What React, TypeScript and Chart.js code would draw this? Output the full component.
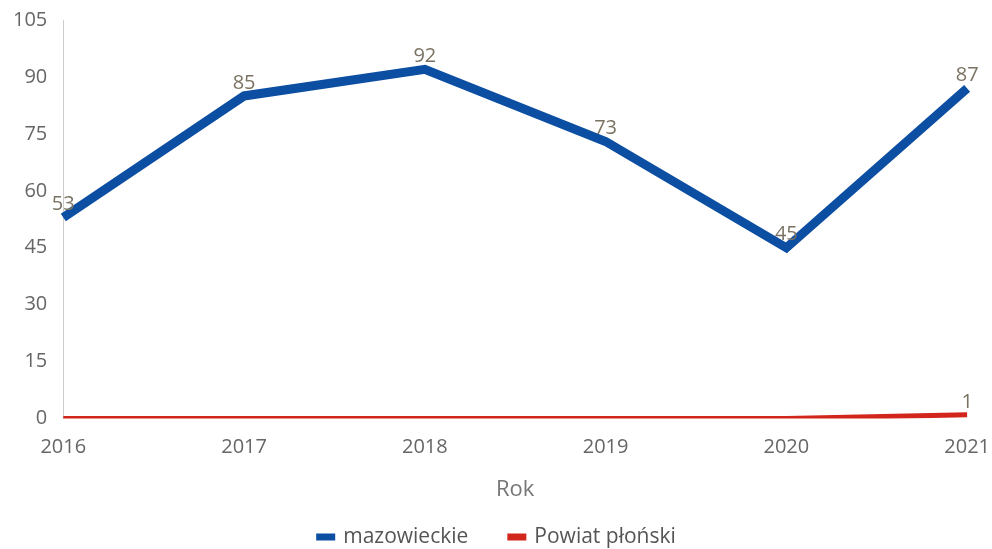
import React, { useEffect, useRef } from "react";
import { Chart, registerables } from "chart.js";

Chart.register(...registerables);

const years = ["2016", "2017", "2018", "2019", "2020", "2021"];
const mazowieckie = [53, 85, 92, 73, 45, 87];
const powiatPlonski = [0, 0, 0, 0, 0, 1];
const seriesNames = ["mazowieckie", "Powiat płoński"];
const seriesColors = ["#0b4ea2", "#d2261c"];

const FONT = "'Open Sans', 'Noto Sans', sans-serif";
const VIEW_W = 992;
const VIEW_H = 549;

const labelPlugin = {
  id: "valueLabels",
  afterDatasetsDraw(chart: any) {
    const ctx = chart.ctx;
    ctx.save();
    ctx.font = `20px ${FONT}`;
    ctx.fillStyle = "#7a7262";
    ctx.textAlign = "center";
    ctx.textBaseline = "middle";
    chart.data.datasets.forEach((ds: any, i: number) => {
      const meta = chart.getDatasetMeta(i);
      meta.data.forEach((pt: any, j: number) => {
        const v = ds.data[j];
        if (!v) return;
        ctx.fillText(String(v), pt.x, pt.y - 13);
      });
    });
    ctx.restore();
  },
};

const legendPlugin = {
  id: "customLegend",
  afterDraw(chart: any) {
    const ctx = chart.ctx;
    ctx.save();
    ctx.font = `21px ${FONT}`;
    ctx.textBaseline = "middle";
    ctx.textAlign = "left";
    const boxW = 19;
    const boxH = 7;
    const gapBoxText = 8;
    const gapItems = 39;
    const widths = chart.data.datasets.map(
      (ds: any) => boxW + gapBoxText + ctx.measureText(ds.label).width
    );
    const total = widths.reduce((a: number, b: number) => a + b, 0) + gapItems * (widths.length - 1);
    const cx = VIEW_W / 2;
    let x = cx - total / 2;
    const y = 537;
    chart.data.datasets.forEach((ds: any, i: number) => {
      ctx.fillStyle = seriesColors[i];
      ctx.fillRect(x, y - boxH / 2, boxW, boxH);
      ctx.fillStyle = "#555";
      ctx.fillText(ds.label, x + boxW + gapBoxText, y);
      x += widths[i] + gapItems;
    });
    ctx.restore();
  },
};

export default function App() {
  const ref = useRef<HTMLCanvasElement>(null);
  useEffect(() => {
    document.body.style.margin = "0";
    const chart = new Chart(ref.current!, {
      type: "line",
      data: {
        labels: years,
        datasets: [
          {
            label: seriesNames[0],
            data: mazowieckie,
            borderColor: seriesColors[0],
            backgroundColor: seriesColors[0],
            borderWidth: 9,
            pointRadius: 0,
            tension: 0,
          },
          {
            label: seriesNames[1],
            data: powiatPlonski,
            borderColor: seriesColors[1],
            backgroundColor: seriesColors[1],
            borderWidth: 5,
            pointRadius: 0,
            tension: 0,
          },
        ],
      },
      options: {
        animation: false,
        responsive: false,
        layout: { padding: { top: 8, left: 5, right: 0, bottom: 32 } },
        plugins: {
          legend: { display: false },
          tooltip: { enabled: false },
        },
        scales: {
          x: {
            grid: { display: false },
            border: { display: false },
            ticks: { color: "#666", font: { size: 20, family: FONT }, padding: 9 },
            title: {
              display: true,
              text: "Rok",
              color: "#777",
              font: { size: 22, family: FONT },
              padding: { top: 8, bottom: 14 },
            },
          },
          y: {
            min: 0,
            max: 105,
            ticks: { stepSize: 15, color: "#666", font: { size: 20, family: FONT }, padding: 8 },
            grid: { display: false },
            border: { display: true, color: "#ccc", width: 1 },
          },
        },
      },
      plugins: [labelPlugin, legendPlugin],
    });
    return () => chart.destroy();
  }, []);
  return (
    <div style={{ width: VIEW_W, height: VIEW_H, overflow: "hidden" }}>
      <canvas ref={ref} width={999} height={VIEW_H} style={{ display: "block" }} />
    </div>
  );
}
